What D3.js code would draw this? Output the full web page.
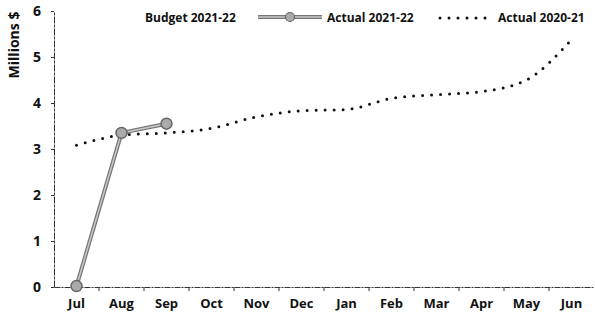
<!DOCTYPE html>
<html>
<head>
<meta charset="utf-8">
<script src="https://cdn.jsdelivr.net/npm/d3@7"></script>
<style>
  body { margin: 0; background: #fff; }
  text { font-family: "Open Sans", sans-serif; font-weight: 700; fill: #111; }
</style>
</head>
<body>
<div class="chart"></div>
<script>
var width = 595;
var height = 324;
var margin = {top: 11, left: 54, right: 1, bottom: 37};

var months = ["Jul", "Aug", "Sep", "Oct", "Nov", "Dec", "Jan", "Feb", "Mar", "Apr", "May", "Jun"];
var actual2122 = [0.02, 3.35, 3.55];
var actual2021 = [3.08, 3.3, 3.35, 3.45, 3.7, 3.83, 3.86, 4.1, 4.18, 4.25, 4.5, 5.38];
var yTicks = [0, 1, 2, 3, 4, 5, 6];
var legendNames = ["Budget 2021-22", "Actual 2021-22", "Actual 2020-21"];

var svg = d3.select(".chart")
    .append("svg")
    .attr("width", width)
    .attr("height", height);

var xScale = d3.scaleBand()
    .domain(months)
    .range([margin.left, width - margin.right]);

var yScale = d3.scaleLinear()
    .domain([0, 6])
    .range([height - margin.bottom, margin.top]);

function xMid(m) { return xScale(m) + xScale.bandwidth() / 2; }

// x axis
var xAxis = svg.append("g")
    .attr("transform", `translate(0,${yScale(0)})`)
    .call(d3.axisBottom(xScale).tickSize(0).tickPadding(12).tickSizeOuter(0));
xAxis.select(".domain").attr("stroke", "#333").attr("stroke-width", 1).attr("stroke-dasharray", "6,1,2,1");
xAxis.selectAll("text").style("font-size", "13px").style("font-family", "Open Sans").style("font-weight", 700);

// small ticks between categories
svg.append("g").selectAll("line")
    .data(months.slice(1))
    .enter()
    .append("line")
    .attr("x1", function(d){return xScale(d);})
    .attr("x2", function(d){return xScale(d);})
    .attr("y1", yScale(0))
    .attr("y2", yScale(0) + 4)
    .attr("stroke", "#333");

// y axis
var yAxis = svg.append("g")
    .attr("transform", `translate(${margin.left},0)`)
    .call(d3.axisLeft(yScale).tickValues(yTicks).tickFormat(d3.format("d")).tickSize(3).tickPadding(10).tickSizeOuter(0));
yAxis.select(".domain").attr("stroke", "#333").attr("stroke-dasharray", "7,1,3,1");
yAxis.selectAll("line").attr("stroke", "#333");
yAxis.selectAll("text").style("font-size", "14px").style("font-family", "Open Sans").style("font-weight", 700);

svg.append("text")
    .attr("transform", "translate(19,45) rotate(-90)")
    .attr("text-anchor", "middle")
    .style("font-size", "14px")
    .text("Millions $");

// Actual 2020-21 dotted line
var line2021 = d3.line()
    .x(function(d, i){return xMid(months[i]);})
    .y(function(d){return yScale(d);})
    .curve(d3.curveMonotoneX);

svg.append("path")
    .datum(actual2021)
    .attr("d", line2021)
    .attr("fill", "none")
    .attr("stroke", "#111")
    .attr("stroke-width", 3)
    .attr("stroke-linecap", "round")
    .attr("stroke-dasharray", "0,9");

// Actual 2021-22 line with markers
var line2122 = d3.line()
    .x(function(d, i){return xMid(months[i]);})
    .y(function(d){return yScale(d);});

svg.append("path")
    .datum(actual2122)
    .attr("d", line2122)
    .attr("fill", "none")
    .attr("stroke", "#777")
    .attr("stroke-width", 4);
svg.append("path")
    .datum(actual2122)
    .attr("d", line2122)
    .attr("fill", "none")
    .attr("stroke", "#c8c8c8")
    .attr("stroke-width", 1.5);

svg.selectAll("circle.m")
    .data(actual2122)
    .enter()
    .append("circle")
    .attr("class", "m")
    .attr("cx", function(d, i){return xMid(months[i]);})
    .attr("cy", function(d){return yScale(d);})
    .attr("r", 5.5)
    .attr("fill", "#aaa")
    .attr("stroke", "#666")
    .attr("stroke-width", 1.5);

// legend
var legend = svg.append("g").style("font-size", "12px");
legend.append("text").attr("x", 145).attr("y", 22).text(legendNames[0]);

legend.append("line").attr("x1", 258).attr("x2", 322).attr("y1", 17).attr("y2", 17)
    .attr("stroke", "#777").attr("stroke-width", 4);
legend.append("line").attr("x1", 258).attr("x2", 322).attr("y1", 17).attr("y2", 17)
    .attr("stroke", "#c8c8c8").attr("stroke-width", 1.5);
legend.append("circle").attr("cx", 290).attr("cy", 17).attr("r", 4.5)
    .attr("fill", "#aaa").attr("stroke", "#666").attr("stroke-width", 1.2);
legend.append("text").attr("x", 327).attr("y", 22).text(legendNames[1]);

legend.append("line").attr("x1", 440).attr("x2", 492).attr("y1", 18).attr("y2", 18)
    .attr("stroke", "#111").attr("stroke-width", 3)
    .attr("stroke-linecap", "round").attr("stroke-dasharray", "0,9");
legend.append("text").attr("x", 498).attr("y", 22).text(legendNames[2]);
</script>
</body>
</html>
